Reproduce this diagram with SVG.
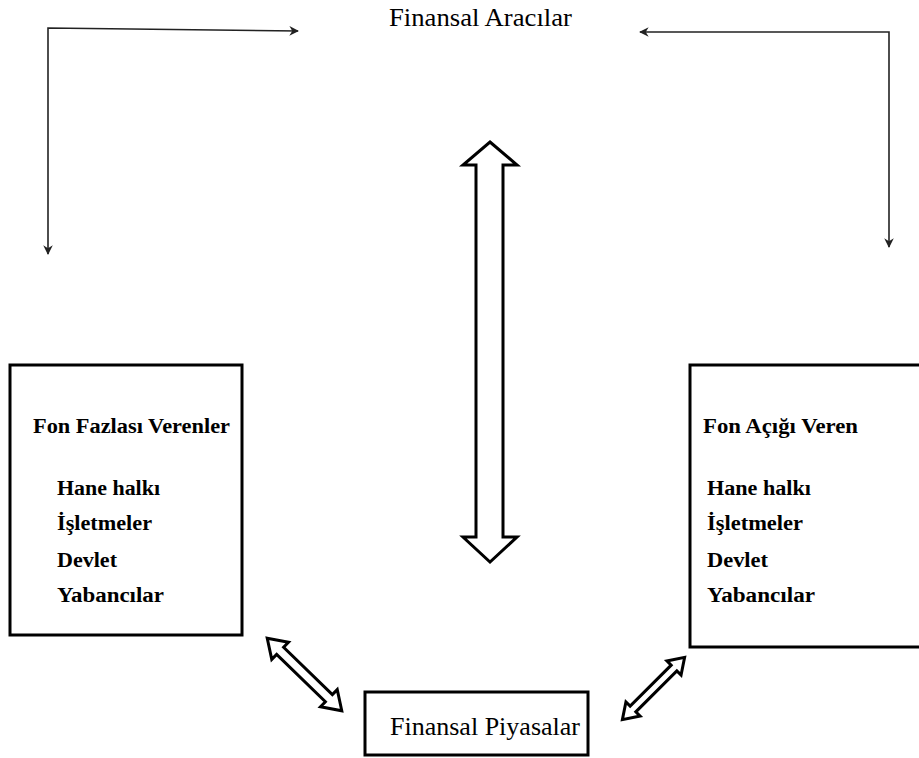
<svg xmlns="http://www.w3.org/2000/svg" width="919" height="758" viewBox="0 0 919 758">
<defs>
<marker id="ah" viewBox="0 0 10 10" refX="9" refY="5" markerWidth="6" markerHeight="6" orient="auto-start-reverse" markerUnits="strokeWidth">
<path d="M0,0 L10,5 L0,10 L3,5 Z" fill="#222"/>
</marker>
</defs>
<style>
.box{fill:#fff;stroke:#000;stroke-width:3}
.conn{fill:none;stroke:#222;stroke-width:1.6}
.dbl{fill:#fff;stroke:#000;stroke-width:3;stroke-linejoin:miter}
.t{font-family:"Liberation Serif","Times New Roman",serif;fill:#000}
.b{font-weight:bold;font-size:20px}
.n{font-size:25px}
</style>
<rect width="919" height="758" fill="#fff"/>
<g id="connectors">
<polyline class="conn" points="298,31 48,28 48,254" marker-start="url(#ah)" marker-end="url(#ah)"/>
<polyline class="conn" points="640,32 889,32 889,247" marker-start="url(#ah)" marker-end="url(#ah)"/>
<polygon class="dbl" points="490,142 517,165 503,165 503,537 517,537 490,562 463,537 476,537 476,165 463,165"/>
<polygon class="dbl" transform="translate(304.5,674.5) rotate(44.2)" points="-52,0 -34,-12 -34,-5 34,-5 34,-12 52,0 34,12 34,5 -34,5 -34,12"/>
<polygon class="dbl" transform="translate(653.5,688.5) rotate(-45)" points="-44,0 -29,-10 -29,-4 29,-4 29,-10 44,0 29,10 29,4 -29,4 -29,10"/>
</g>
<g id="finansal-aracilar">
<text class="t n" x="389" y="26" textLength="183" lengthAdjust="spacingAndGlyphs">Finansal Aracılar</text>
</g>
<g id="fon-fazlasi">
<rect class="box" x="10" y="365" width="232" height="270"/>
<text class="t b" x="33" y="433" textLength="197" lengthAdjust="spacingAndGlyphs">Fon Fazlası Verenler</text>
<text class="t b" x="57" y="495" textLength="103" lengthAdjust="spacingAndGlyphs">Hane halkı</text>
<text class="t b" x="57" y="530" textLength="95" lengthAdjust="spacingAndGlyphs">İşletmeler</text>
<text class="t b" x="57" y="567" textLength="60" lengthAdjust="spacingAndGlyphs">Devlet</text>
<text class="t b" x="57" y="602" textLength="107" lengthAdjust="spacingAndGlyphs">Yabancılar</text>
</g>
<g id="fon-acigi">
<rect class="box" x="690" y="365" width="240" height="282"/>
<text class="t b" x="703" y="433" textLength="155" lengthAdjust="spacingAndGlyphs">Fon Açığı Veren</text>
<text class="t b" x="707" y="495" textLength="104" lengthAdjust="spacingAndGlyphs">Hane halkı</text>
<text class="t b" x="707" y="530" textLength="96" lengthAdjust="spacingAndGlyphs">İşletmeler</text>
<text class="t b" x="707" y="567" textLength="61" lengthAdjust="spacingAndGlyphs">Devlet</text>
<text class="t b" x="707" y="602" textLength="108" lengthAdjust="spacingAndGlyphs">Yabancılar</text>
</g>
<g id="finansal-piyasalar">
<rect class="box" x="365" y="692" width="223" height="63"/>
<text class="t n" x="390" y="735" textLength="190" lengthAdjust="spacingAndGlyphs">Finansal Piyasalar</text>
</g>
</svg>
